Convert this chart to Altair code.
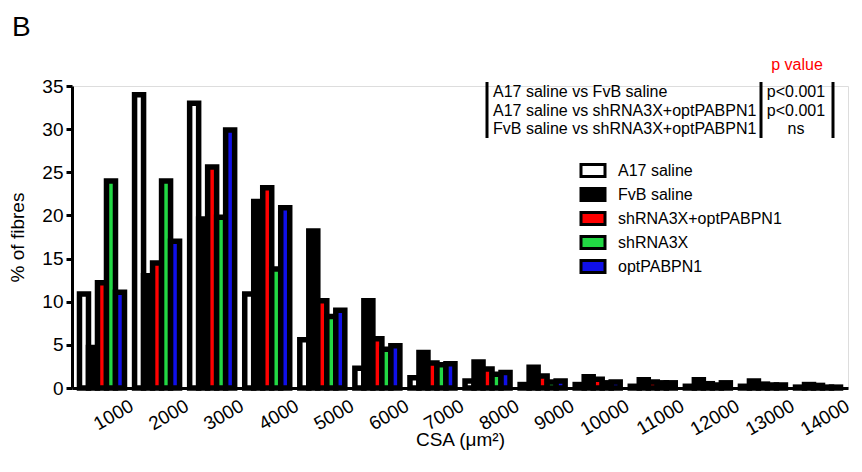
import altair as alt
import pandas as pd

bins = ["1000", "2000", "3000", "4000", "5000", "6000", "7000",
        "8000", "9000", "10000", "11000", "12000", "13000", "14000"]
series = ["A17 saline", "FvB saline", "shRNA3X+optPABPN1", "shRNA3X", "optPABPN1"]
colors = ["#ffffff", "#000000", "#ff0000", "#22d844", "#1010e8"]

a17 = [10.9, 34.0, 33.0, 10.9, 5.6, 2.3, 1.2, 0.8, 0.4, 0.4, 0.2, 0.2, 0.2, 0.1]
fvb = [4.7, 13.0, 19.6, 21.6, 18.2, 10.1, 4.1, 3.0, 2.4, 1.3, 0.95, 0.95, 0.8, 0.4]
shopt = [12.2, 14.5, 25.6, 23.2, 10.1, 5.7, 2.9, 2.2, 1.4, 1.0, 0.7, 0.5, 0.45, 0.3]
sh = [24.0, 24.0, 19.8, 13.8, 8.3, 4.5, 2.7, 1.6, 0.7, 0.6, 0.6, 0.35, 0.35, 0.1]
opt = [11.1, 17.0, 29.9, 20.9, 9.0, 4.9, 2.8, 1.8, 0.8, 0.7, 0.6, 0.6, 0.35, 0.1]

comparisons = ["A17 saline vs FvB saline",
               "A17 saline vs shRNA3X+optPABPN1",
               "FvB saline vs shRNA3X+optPABPN1"]
pvalues = ["p<0.001", "p<0.001", "ns"]

rows = []
for s, vals in zip(series, [a17, fvb, shopt, sh, opt]):
    for b, v in zip(bins, vals):
        rows.append({"bin": b, "series": s, "value": v})
df = pd.DataFrame(rows)

FONT = "Liberation Sans"

symbol_path = "M-1.2,-0.6L1.2,-0.6L1.2,0.6L-1.2,0.6Z"

bars = alt.Chart(df).mark_bar(stroke="black", strokeWidth=5.5, strokeJoin="miter").encode(
    x=alt.X("bin:N", sort=bins,
            scale=alt.Scale(paddingInner=0.183, paddingOuter=0.136),
            axis=alt.Axis(title="CSA (μm²)", labelAngle=330, labelAlign="right",
                          labelBaseline="middle", labelOffset=30, labelPadding=16,
                          ticks=False, domainWidth=3, domainColor="black",
                          labelFontSize=19, titleFontSize=19, titleFontWeight="normal",
                          labelFont=FONT, titleFont=FONT, labelColor="black",
                          titleColor="black", titlePadding=-9)),
    xOffset=alt.XOffset("series:N", sort=series, scale=alt.Scale(paddingInner=0, paddingOuter=0)),
    y=alt.Y("value:Q", scale=alt.Scale(domain=[0, 35], nice=False),
            axis=alt.Axis(title="% of fibres", values=[0, 5, 10, 15, 20, 25, 30, 35],
                          grid=False, tickSize=6, tickWidth=3, tickColor="black",
                          domainWidth=3, domainColor="black", labelPadding=3,
                          labelFontSize=19, titleFontSize=19, titleFontWeight="normal",
                          labelFont=FONT, titleFont=FONT, labelColor="black",
                          titleColor="black", titlePadding=14)),
    fill=alt.Fill("series:N", sort=series,
                  scale=alt.Scale(domain=series, range=colors),
                  legend=alt.Legend(title=None, orient="none", legendX=509.5, legendY=73,
                                    symbolType=symbol_path, symbolSize=400,
                                    symbolStrokeColor="black", symbolStrokeWidth=3,
                                    symbolOpacity=1, labelLimit=400,
                                    labelFontSize=16, labelFont=FONT, labelColor="black",
                                    labelOffset=13.5, rowPadding=-1, padding=0)),
    order=alt.Order("series_idx:Q"),
).transform_calculate(
    series_idx="indexof(" + str(series) + ", datum.series)"
)

letter = alt.Chart(pd.DataFrame({"t": ["B"]})).mark_text(
    fontSize=28, font=FONT, align="left", baseline="alphabetic", color="black"
).encode(x=alt.value(-60), y=alt.value(-50), text="t:N")

ptitle = alt.Chart(pd.DataFrame({"t": ["p value"]})).mark_text(
    fontSize=16, font=FONT, align="center", baseline="alphabetic", color="#ff0000"
).encode(x=alt.value(725), y=alt.value(-16), text="t:N")

comp_text = alt.Chart(pd.DataFrame({"t": ["\n".join(comparisons)]})).mark_text(
    fontSize=16, font=FONT, align="left", baseline="alphabetic", color="black",
    lineBreak="\n", lineHeight=18.5
).encode(x=alt.value(421), y=alt.value(11), text="t:N")

p_text = alt.Chart(pd.DataFrame({"t": ["\n".join(pvalues)]})).mark_text(
    fontSize=16, font=FONT, align="center", baseline="alphabetic", color="black",
    lineBreak="\n", lineHeight=18.5
).encode(x=alt.value(724), y=alt.value(11), text="t:N")

rule_layers = []
for xv in [415, 689, 761]:
    rule_layers.append(
        alt.Chart(pd.DataFrame({"k": [0]})).mark_rule(color="black", strokeWidth=3).encode(
            x=alt.value(xv), y=alt.value(-4), y2=alt.value(52))
    )

chart = alt.layer(bars, letter, ptitle, comp_text, p_text, *rule_layers).properties(
    width=776, height=302,
    autosize=alt.AutoSizeParams(type="none"),
    padding={"left": 64, "top": 78, "right": 6, "bottom": 76},
).configure_view(strokeWidth=0).configure(background="white")

chart.save("out.html", embed_options={"renderer": "svg", "actions": False})
